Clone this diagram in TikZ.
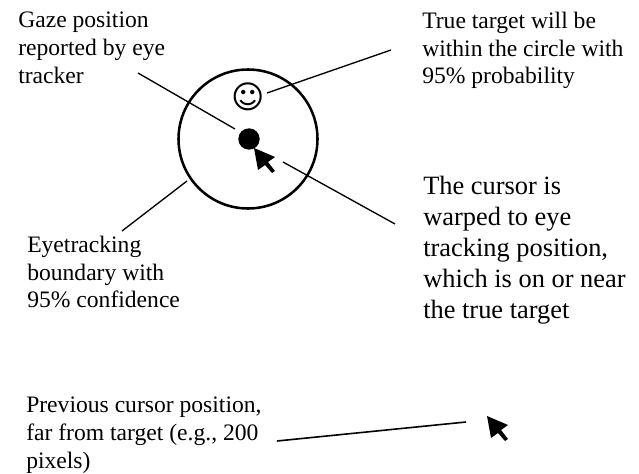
\documentclass[tikz,border=0pt]{standalone}
\usepackage{fontspec}
\setmainfont{Liberation Serif}
\newfontfamily\symfont{DejaVu Sans}
\tikzset{
  lab/.style={anchor=north west,inner sep=0pt,align=left,font=\fontsize{17.7pt}{20.7pt}\selectfont},
  big/.style={anchor=north west,inner sep=0pt,align=left,font=\fontsize{19.8pt}{23.3pt}\selectfont},
  conn/.style={line width=1pt,black}
}
\newcommand{\cursorat}[2]{\fill[black,shift={(#1,#2)}] (0,0) -- (21,9) -- (14,14) -- (21,23) -- (18,25) -- (11,17) -- (4,22) -- cycle;}
\begin{document}
\begin{tikzpicture}[x=0.75pt,y=-0.75pt]
\useasboundingbox (0,0) rectangle (639,474);
\fill[white] (0,0) rectangle (639,474);
\node[lab] (a) at (18,12) {Gaze position\\reported by eye\\tracker};
\node[lab] (b) at (422,12) {True target will be\\within the circle with\\95\% probability};
\node[lab] (c) at (27,236) {Eyetracking\\boundary with\\95\% confidence};
\node[big] (d) at (423,176) {The cursor is\\warped to eye\\tracking position,\\which is on or near\\the true target};
\node[lab] (e) at (26,397) {Previous cursor position,\\far from target (e.g., 200\\pixels)};
\draw[line width=1.9pt] (248,139) circle (69.5);
\fill (249,139) circle (10.7);
\node[inner sep=0pt,font=\fontsize{24pt}{24pt}\selectfont\symfont] (s) at (248,97) {☺};
\coordinate (c1) at (138,73); \coordinate (c2) at (235,129);
\coordinate (c3) at (283,162); \coordinate (c4) at (395,224);
\draw[conn] (c1) -- (c2);
\draw[conn] (c3) -- (c4);
\coordinate (c5) at (391,50); \coordinate (c6) at (267,93);
\draw[conn] (c5) -- (c6);
\coordinate (c7) at (187,181); \coordinate (c8) at (122,231);
\draw[conn] (c7) -- (c8);
\coordinate (c9) at (466,422); \coordinate (c10) at (277,441);
\draw[conn,line width=1.2pt] (c9) -- (c10);
\cursorat{254}{148}
\cursorat{487}{416}
\end{tikzpicture}
\end{document}
